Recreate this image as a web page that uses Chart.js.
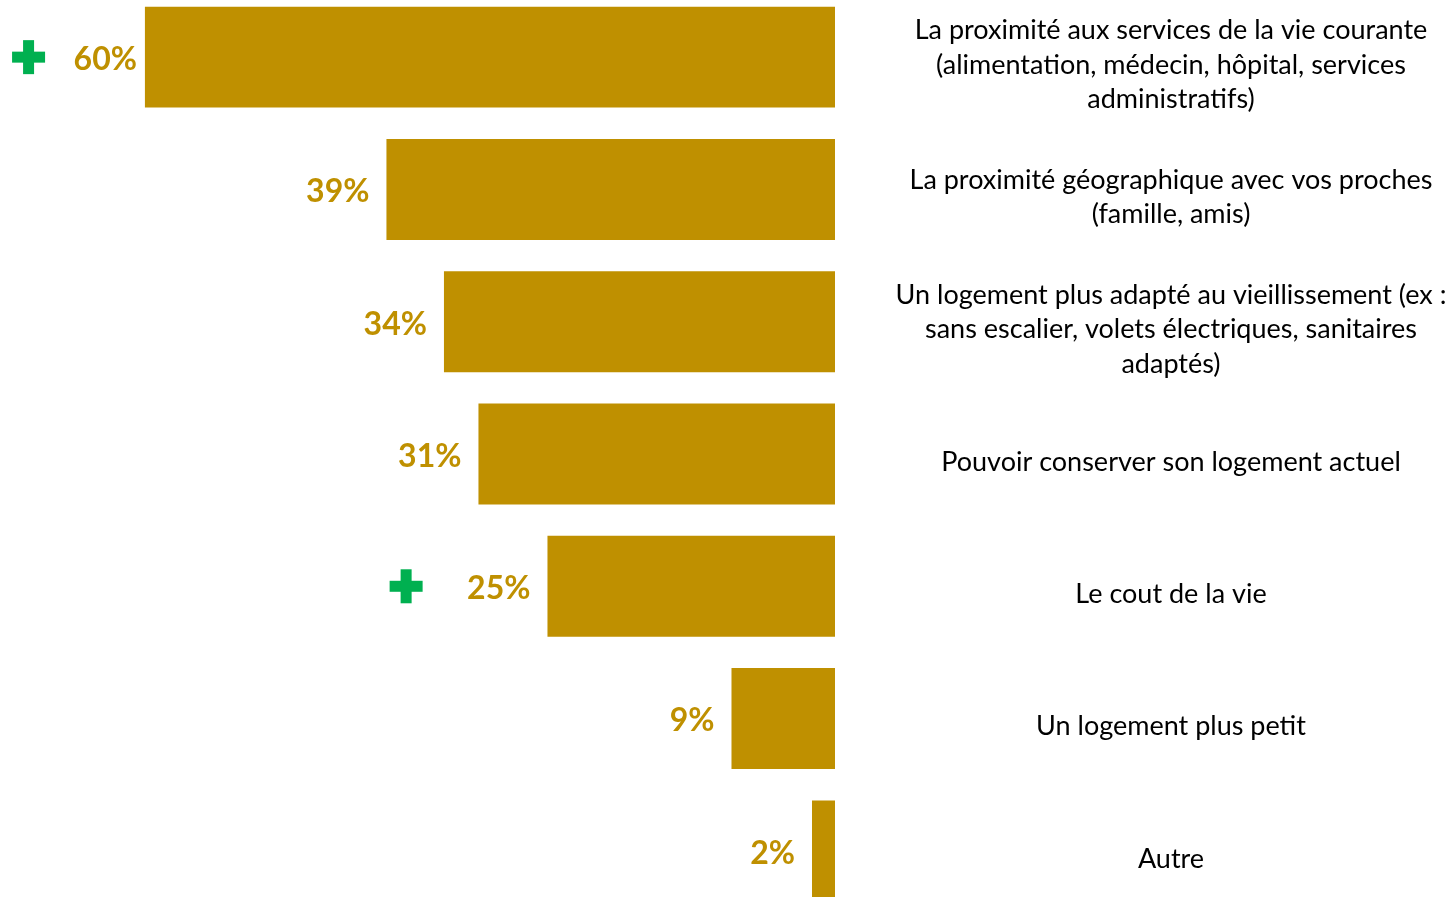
<!DOCTYPE html>
<html><head><meta charset="utf-8">
<script src="https://cdn.jsdelivr.net/npm/chart.js@4/dist/chart.umd.min.js"></script>
<style>
html,body{margin:0;padding:0;background:#fff;overflow:hidden;width:1456px;height:897px;}
#wrap{position:absolute;left:0;top:-9px;width:1456px;height:926px;}
</style></head>
<body><div id="wrap"><canvas id="c"></canvas></div>
<script>
const categories = [
  ["La proximité aux services de la vie courante","(alimentation, médecin, hôpital, services","administratifs)"],
  ["La proximité géographique avec vos proches","(famille, amis)"],
  ["Un logement plus adapté au vieillissement (ex :","sans escalier, volets électriques, sanitaires","adaptés)"],
  ["Pouvoir conserver son logement actuel"],
  ["Le cout de la vie"],
  ["Un logement plus petit"],
  ["Autre"]
];
const values = [60, 39, 34, 31, 25, 9, 2];
const valueLabels = ["60%","39%","34%","31%","25%","9%","2%"];
const plusMarked = [true, false, false, false, true, false, false];

const GOLD = '#BF9000', GREEN = '#00B050';

const overlay = {
  id: 'overlay',
  afterDatasetsDraw(chart) {
    const ctx = chart.ctx;
    const y = chart.scales.y;
    const meta = chart.getDatasetMeta(0);
    ctx.save();
    ctx.font = 'bold 32px Lato';
    ctx.fillStyle = GOLD;
    ctx.textAlign = 'right';
    ctx.textBaseline = 'middle';
    const labelLefts = [];
    meta.data.forEach((bar, i) => {
      const left = Math.min(bar.x, bar.base);
      const gap = i === 0 ? 8 : 17;
      const xr = left - gap;
      const yy = bar.y + 2.5;
      ctx.fillText(valueLabels[i], xr, yy);
      labelLefts.push(xr - ctx.measureText(valueLabels[i]).width);
    });
    const plusGap = {0: 45, 4: 61};
    ctx.fillStyle = GREEN;
    plusMarked.forEach((m, i) => {
      if (!m) return;
      const cx = labelLefts[i] - (plusGap[i] || 50);
      const cy = meta.data[i].y;
      const s = 16.5, t = 5.5;
      ctx.fillRect(cx - s, cy - t, 2 * s, 2 * t);
      ctx.fillRect(cx - t, cy - s - 0.5, 2 * t, 2 * s + 1);
    });
    ctx.font = '27px Lato';
    ctx.fillStyle = '#000';
    ctx.textAlign = 'center';
    categories.forEach((lines, i) => {
      const cy = y.getPixelForValue(i) + 8;
      const lh = 34.5;
      const top = cy - (lines.length - 1) * lh / 2;
      lines.forEach((ln, k) => ctx.fillText(ln, 1171, top + k * lh));
    });
    ctx.restore();
  }
};

new Chart(document.getElementById('c'), {
  type: 'bar',
  data: {
    labels: categories.map(c => c.join(' ')),
    datasets: [{
      data: values,
      backgroundColor: GOLD,
      borderWidth: 0,
      barPercentage: 0.763,
      categoryPercentage: 1
    }]
  },
  options: {
    indexAxis: 'y',
    responsive: true,
    maintainAspectRatio: false,
    animation: false,
    layout: { padding: { left: 0, right: 621, top: 0, bottom: 0 } },
    plugins: { legend: { display: false }, tooltip: { enabled: false } },
    scales: {
      x: { reverse: true, min: 0, max: 72.6, display: false, grid: { display: false } },
      y: { display: false, grid: { display: false } }
    }
  },
  plugins: [overlay]
});
</script>
</body></html>
